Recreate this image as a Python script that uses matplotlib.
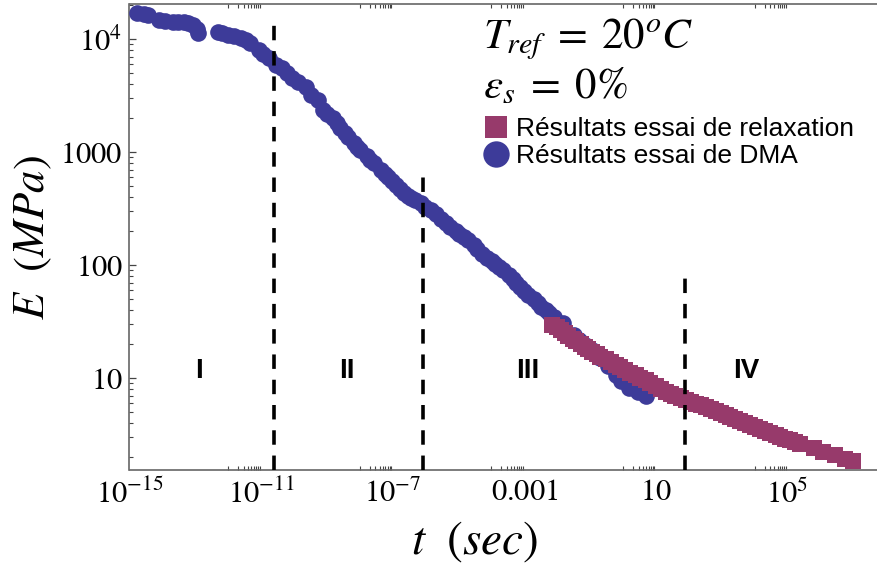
import matplotlib
matplotlib.use("Agg")
import matplotlib.pyplot as plt
from matplotlib.lines import Line2D
import numpy as np

# ---------------- data ----------------
# DMA results (blue circles): time (s), modulus E (MPa)
dma_t = [1.75e-15, 2.67e-15, 3.78e-15, 7.62e-15, 1.24e-14, 2.03e-14, 2.88e-14, 4.38e-14,
         6.21e-14, 8.81e-14, 1.09e-13, 1.25e-13, 4.73e-13, 6.71e-13, 1.02e-12, 1.55e-12,
         2.37e-12, 3.36e-12, 4.76e-12, 8.34e-12, 1.18e-11, 1.68e-11, 2.74e-11, 4.47e-11,
         6.34e-11, 8.99e-11, 1.37e-10, 2.24e-10, 3.40e-10, 5.18e-10, 7.35e-10, 1.04e-9,
         1.48e-9, 1.96e-9, 2.59e-9, 3.43e-9, 4.23e-9, 6.44e-9, 7.94e-9, 1.05e-8,
         1.60e-8, 2.11e-8, 2.61e-8, 4.26e-8, 5.64e-8, 6.95e-8, 9.20e-8, 1.22e-7,
         1.61e-7, 2.13e-7, 2.82e-7, 3.72e-7, 4.93e-7, 7.00e-7, 9.93e-7, 1.41e-6,
         2.00e-6, 2.84e-6, 4.03e-6, 5.71e-6, 8.11e-6, 1.07e-5, 1.52e-5, 2.01e-5,
         2.86e-5, 3.78e-5, 5.36e-5, 7.60e-5, 1.01e-4, 1.33e-4, 1.76e-4, 2.33e-4,
         3.31e-4, 4.38e-4, 5.79e-4, 7.66e-4, 1.01e-3, 1.34e-3, 1.91e-3, 2.52e-3,
         3.33e-3, 4.41e-3, 5.83e-3, 7.73e-3, 0.0155, 0.0313, 0.0476, 0.0724,
         0.118, 0.207, 0.338, 0.592, 0.900, 1.47, 2.76, 4.83]
dma_E = [17100, 16700, 16400, 14800, 14500, 14200, 14200, 14200,
         13900, 13400, 12300, 11400, 11600, 11380, 10900, 10700,
         10300, 9860, 9270, 8040, 7410, 6830, 5930, 5580,
         5040, 4550, 4190, 3790, 3214, 2900, 2370, 2183,
         2010, 1815, 1641, 1483, 1360, 1208, 1114, 1050,
         927, 855, 803, 697, 643, 604, 557, 514,
         473, 436, 410, 394, 378, 356, 328, 308,
         284, 257, 237, 218, 201, 189, 178, 168,
         151, 139, 126, 116, 109, 103, 96.6, 90.8,
         82.0, 75.7, 69.7, 64.2, 59.3, 54.6, 50.4, 46.4,
         42.8, 40.2, 37.8, 34.8, 30.8, 24.2, 21.8, 19.7,
         17.8, 15.1, 12.8, 10.7, 9.47, 8.2, 7.57, 6.97]

# Relaxation test results (maroon squares): time (s), modulus E (MPa)
rel_t = [7.19e-3, 9.53e-3, 0.0126, 0.0167, 0.0220, 0.0292, 0.0386, 0.0511,
         0.0676, 0.0893, 0.118, 0.157, 0.207, 0.294, 0.417, 0.592,
         0.839, 1.19, 1.69, 2.40, 3.40, 4.83, 6.85, 9.73,
         13.8, 19.6, 27.8, 39.4, 56.0, 79.4, 113, 160,
         227, 322, 457, 649, 920, 1306, 1850, 2624,
         3720, 5284, 7500, 1.06e4, 1.51e4, 2.14e4, 3.04e4, 4.32e4,
         6.12e4, 8.69e4, 1.23e5, 1.75e5, 2.48e5, 6.17e5, 1.24e6, 2.69e6,
         5.41e6, 1.01e7]
rel_E = [29.6, 28.2, 26.7, 25.2, 23.7, 22.5, 21.4, 20.1,
         18.9, 18.0, 17.1, 16.3, 15.4, 14.7, 13.9, 13.2,
         12.6, 11.8, 11.1, 10.6, 10.06, 9.57, 9.09, 8.55,
         8.04, 7.64, 7.26, 6.97, 6.70, 6.42, 6.17, 5.98,
         5.80, 5.57, 5.35, 5.14, 4.93, 4.73, 4.55, 4.36,
         4.19, 4.02, 3.86, 3.71, 3.56, 3.42, 3.28, 3.15,
         3.03, 2.93, 2.85, 2.73, 2.62, 2.42, 2.23, 2.10,
         1.93, 1.85]

# Region boundaries (dashed lines): time and upper E limit
bound_t = [2.4e-11, 8.5e-7, 76.0]
bound_top = [15450, 643, 89]

region_labels = ["I", "II", "III", "IV"]
region_t = [1.26e-13, 3.98e-9, 1.26e-3, 5.6e3]
region_E = [11.7, 11.7, 11.7, 11.7]

x_major = [1e-15, 1e-11, 1e-7, 1e-3, 1e1, 1e5]
x_major_labels = [r"$10^{-15}$", r"$10^{-11}$", r"$10^{-7}$", r"$0.001$", r"$10$", r"$10^{5}$"]
y_major = [10, 100, 1000, 1e4]
y_major_labels = [r"$10$", r"$100$", r"$1000$", r"$10^{4}$"]

blue = "#3d3b99"
maroon = "#973a6b"

# ---------------- figure ----------------
plt.rcParams["mathtext.fontset"] = "stix"
plt.rcParams["font.family"] = ["STIXGeneral", "DejaVu Serif"]

W, H = 878, 568
fig = plt.figure(figsize=(W / 100, H / 100), dpi=100)
L, R, B, T = 129.5, 883, 470, 4
ax = fig.add_axes([L / W, 1 - B / H, (R - L) / W, (B - T) / H])
ax.set_xscale("log")
ax.set_yscale("log")
xlim = (10 ** -15, 10 ** (-15 + (R - L) / 32.9))
ylim = (10 ** (1 - (B - 378.3) / 113), 10 ** (1 + (378.3 - T) / 113))

ax.plot(dma_t, dma_E, linestyle="none", marker="o", ms=12, mew=0, color=blue, zorder=3)
ax.plot(rel_t, rel_E, linestyle="none", marker="s", ms=11.5, mew=0, color=maroon, zorder=4)

ax.vlines(bound_t, ylim[0], bound_top, colors="black", linewidth=2.6,
          linestyles=[(0, (4, 3))], zorder=5, clip_on=False)

for lab, tt, ee in zip(region_labels, region_t, region_E):
    ax.text(tt, ee, lab, ha="center", va="center", fontsize=20, fontweight="bold",
            family="Liberation Sans", zorder=6)

# ticks
ax.set_xticks(x_major)
ax.set_xticklabels(x_major_labels)
minor_x = []
for m in x_major:
    for k in range(1, 10):
        v = k * m / 10
        if xlim[0] < v < xlim[1]:
            minor_x.append(v)
ax.set_xticks(minor_x, minor=True)
ax.xaxis.set_minor_formatter(matplotlib.ticker.NullFormatter())
ax.tick_params(axis="x", which="major", length=0, pad=7, labelsize=22)
ax.tick_params(axis="x", which="minor", length=3, width=0.8, direction="in",
               top=True, bottom=True, color="#444444")
ax.set_yticks(y_major)
ax.set_yticklabels(y_major_labels)
ax.yaxis.set_minor_locator(matplotlib.ticker.LogLocator(base=10, subs=np.arange(2, 10)))
ax.yaxis.set_minor_formatter(matplotlib.ticker.NullFormatter())
ax.tick_params(axis="y", which="major", length=5, width=0.9, direction="in", pad=5,
               labelsize=22, color="#444444")
ax.tick_params(axis="y", which="minor", length=3, width=0.8, direction="in", color="#444444")
ax.set_xlim(*xlim)
ax.set_ylim(*ylim)

for s in ["left", "bottom", "top"]:
    ax.spines[s].set_color("#666666")
    ax.spines[s].set_linewidth(1.2)
ax.spines["right"].set_visible(False)

# axis labels
fig.text(475 / W, 1 - 542 / H, r"$t\ \ (sec)$", fontsize=34, ha="center", va="center")
fig.text(33 / W, 1 - 238 / H, r"$E\ \ (MPa)$", fontsize=32, ha="center", va="center",
         rotation=90)

# annotations
fig.text(483 / W, 1 - 48 / H, r"$T_{ref}\;=\;20^{o}C$", fontsize=31, ha="left", va="baseline")
fig.text(483 / W, 1 - 98 / H, r"$\varepsilon_s\;=\;0\%$", fontsize=31, ha="left", va="baseline")

handles = [Line2D([], [], linestyle="none", marker="s", ms=16, mew=0, color=maroon),
           Line2D([], [], linestyle="none", marker="o", ms=19, mew=0, color=blue)]
leg = fig.legend(handles, ["Résultats essai de relaxation", "Résultats essai de DMA"],
                 loc="upper left", bbox_to_anchor=(483 / W, 1 - 117 / H),
                 frameon=False, prop={"family": "Liberation Sans", "size": 19},
                 handlelength=1.0, handletextpad=0.25, labelspacing=0.12, borderpad=0,
                 borderaxespad=0)

fig.savefig("out.png", dpi=100)
